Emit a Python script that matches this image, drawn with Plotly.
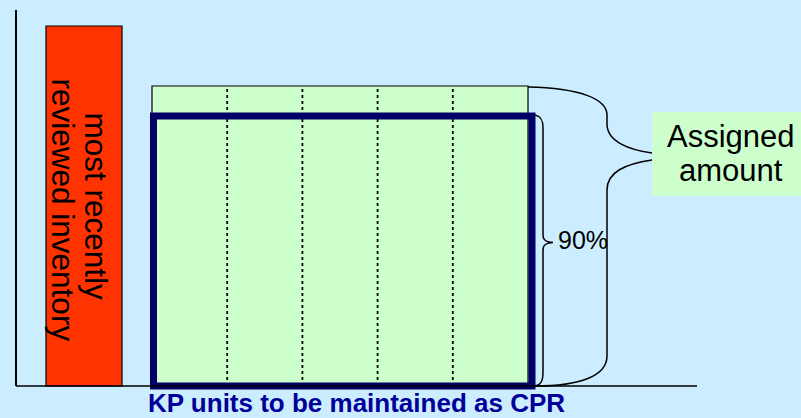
import plotly.graph_objects as go

# ---- data ----
categories = ["most recently reviewed inventory", "Assigned amount", "KP units to be maintained as CPR"]
inventory_value = [120]      # red bar (relative units)
assigned_value = [100]       # green bar = assigned amount (100 %)
cpr_value = [90]             # 90 % of assigned amount
n_units = 5                  # KP units drawn as dotted divisions
pct_label = "90%"

# ---- layout constants (pixel space on x, value space on y) ----
W, H = 801, 418
BASE_PX = 386          # pixel row of value 0
PX_PER_UNIT = 3.0


def v(py):
    """pixel row -> value"""
    return (BASE_PX - py) / PX_PER_UNIT


def p(val):
    """value -> pixel row"""
    return BASE_PX - val * PX_PER_UNIT


FONT = "Liberation Sans, Arial, sans-serif"
BG = "#CCECFF"
GREEN = "#CCFFCC"
RED = "#FF3300"
NAVY = "#000066"

red_x0, red_x1 = 46, 122
grn_x0, grn_x1 = 152, 528
cpr_x0, cpr_x1 = 153.5, 532

fig = go.Figure()

fig.add_trace(go.Bar(
    x=[(red_x0 + red_x1) / 2], y=inventory_value, width=[red_x1 - red_x0],
    marker=dict(color=RED, line=dict(color="black", width=1.2)),
    name=categories[0], hoverinfo="skip"))

fig.add_trace(go.Bar(
    x=[(grn_x0 + grn_x1) / 2], y=assigned_value, width=[grn_x1 - grn_x0],
    marker=dict(color=GREEN, line=dict(color="black", width=1.2)),
    name=categories[1], hoverinfo="skip"))

# dotted unit dividers
unit_w = (grn_x1 - grn_x0) / n_units
for i in range(1, n_units):
    xx = grn_x0 + i * unit_w
    fig.add_trace(go.Scatter(
        x=[xx, xx], y=[0, assigned_value[0]], mode="lines",
        line=dict(color="black", width=1.8, dash="dot"),
        hoverinfo="skip", showlegend=False))

shapes = []
# CPR (90 %) thick outline
shapes.append(dict(type="rect", xref="x", yref="y",
                   x0=cpr_x0, x1=cpr_x1, y0=0, y1=cpr_value[0],
                   line=dict(color=NAVY, width=7), fillcolor="rgba(0,0,0,0)"))

# axis lines
shapes.append(dict(type="line", xref="x", yref="y", x0=16, x1=16, y0=0, y1=v(10),
                   line=dict(color="black", width=2)))
shapes.append(dict(type="line", xref="x", yref="y", x0=16, x1=697, y0=0, y1=0,
                   line=dict(color="black", width=1.5)))

# Assigned amount label box
shapes.append(dict(type="rect", xref="x", yref="y", x0=652, x1=W + 5, y0=v(196), y1=v(112),
                   line=dict(width=0), fillcolor=GREEN))


def P(x, py):
    return f"{x},{v(py):.3f}"


# big brace (assigned amount)
top = p(assigned_value[0]) + 1
bot = p(0)
big = (f"M {P(528, top)} C {P(580, top + 1)} {P(607, top + 12)} {P(607, top + 28)} "
       f"L {P(607, top + 37)} C {P(607, top + 55)} {P(630, top + 63)} {P(652, top + 66)} "
       f"M {P(652, 160)} C {P(625, 164)} {P(607, 172)} {P(607, 190)} "
       f"L {P(607, bot - 30)} C {P(607, bot - 10)} {P(580, bot)} {P(535, bot)}")
shapes.append(dict(type="path", xref="x", yref="y", path=big,
                   line=dict(color="black", width=1.5)))

# small brace (90 %)
t2 = p(cpr_value[0]) - 1
mid = (t2 + bot) / 2 - 8
small = (f"M {P(535, t2)} C {P(541, t2 + 1)} {P(543, t2 + 5)} {P(543, t2 + 13)} "
         f"L {P(543, mid - 7)} C {P(543, mid - 2)} {P(548, mid)} {P(553, mid)} "
         f"C {P(548, mid)} {P(543, mid + 2)} {P(543, mid + 7)} "
         f"L {P(543, bot - 14)} C {P(543, bot - 5)} {P(541, bot - 1)} {P(535, bot)}")
shapes.append(dict(type="path", xref="x", yref="y", path=small,
                   line=dict(color="black", width=1.5)))

annotations = [
    dict(text="most recently", x=95.5, y=v(206), xref="x", yref="y", textangle=90,
         showarrow=False, xanchor="center", yanchor="middle",
         font=dict(family=FONT, size=31.5, color="black")),
    dict(text="reviewed inventory", x=62.5, y=v(210), xref="x", yref="y", textangle=90,
         showarrow=False, xanchor="center", yanchor="middle",
         font=dict(family=FONT, size=31.5, color="black")),
    dict(text="Assigned", x=730.5, y=v(136.5), xref="x", yref="y", showarrow=False,
         xanchor="center", yanchor="middle", font=dict(family=FONT, size=31, color="black")),
    dict(text="amount", x=731, y=v(170.5), xref="x", yref="y", showarrow=False,
         xanchor="center", yanchor="middle", font=dict(family=FONT, size=31, color="black")),
    dict(text=pct_label, x=556, y=v(240), xref="x", yref="y", showarrow=False,
         xanchor="left", yanchor="middle", font=dict(family=FONT, size=25, color="black")),
    dict(text="<b>KP units to be maintained as CPR</b>", x=356.5, y=v(403), xref="x", yref="y",
         showarrow=False, xanchor="center", yanchor="middle",
         font=dict(family=FONT, size=26, color="#000099")),
]

fig.update_layout(
    width=W, height=H, margin=dict(l=0, r=0, t=0, b=0, pad=0),
    paper_bgcolor=BG, plot_bgcolor=BG, showlegend=False, barmode="overlay",
    xaxis=dict(range=[0, W], visible=False, fixedrange=True),
    yaxis=dict(range=[v(H), v(0)], visible=False, fixedrange=True),
    shapes=shapes, annotations=annotations, hovermode=False,
)

fig.write_html(
    "out.html",
    config={"displayModeBar": False},
    post_script="document.body.style.margin='0';document.body.style.padding='0';"
                "document.body.style.overflow='hidden';",
)
